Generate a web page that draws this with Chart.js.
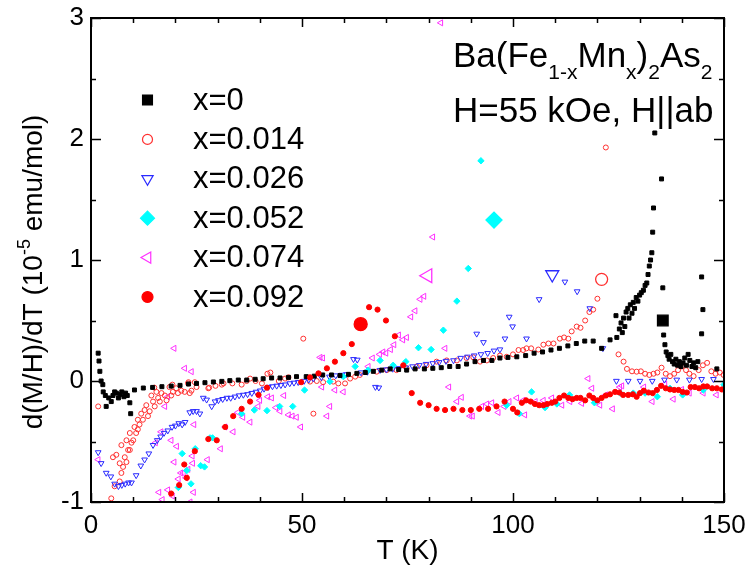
<!DOCTYPE html>
<html>

<head>
  <title>Ba(Fe1-xMnx)2As2 d(M/H)/dT</title>
  <script src="https://cdn.jsdelivr.net/npm/chart.js"></script>
  <style>
    body { margin: 0; background: #fff; }
  </style>
</head>

<body>
  <canvas id="myChart" width="747" height="572"></canvas>
  <script>

    // temperature (K) and d(M/H)/dT (1e-5 emu/mol) for each Mn content
    let t000 = [1.7, 1.9, 2.1, 2.4, 2.8, 2.9, 3.4, 3.6, 4.2, 4.8, 5.2, 5.6, 6.0, 6.5, 6.9, 7.3, 7.8, 8.2, 8.6, 9.2, 9.4,
      10.3, 12.4, 14.6, 16.8, 19.0, 21.1, 23.1, 25.0, 27.0, 29.0, 31.0, 32.9, 34.9, 36.9, 38.9, 40.8, 42.8, 44.8, 46.8, 48.7,
      51.0, 52.9, 54.9, 57.0, 59.0, 61.0, 63.0, 65.0, 66.9, 68.9, 70.9, 72.9, 74.8, 76.8, 79.0, 81.0, 83.0, 85.0, 87.0, 89.0,
      91.0, 93.0, 95.0, 96.9, 98.8, 100.9, 103.0, 105.0, 107.0, 109.0, 111.0, 113.0, 115.0, 117.0, 119.0, 121.0, 123.0,
      124.4, 124.6, 125.2, 125.6, 125.9, 126.2, 126.5, 126.8, 127.2, 127.5, 127.8, 128.2, 128.5, 128.8, 129.2, 129.6, 130.0,
      130.4, 130.9, 131.3, 131.7, 132.0, 132.3, 132.6, 132.9, 133.1, 133.3, 133.6, 135.2, 135.5, 135.7, 136.0, 136.3, 136.7,
      137.0, 137.4, 137.8, 138.2, 138.6, 139.0, 139.4, 139.8, 140.3, 140.7, 141.1, 141.5, 141.9, 142.4, 142.8, 143.3, 143.8,
      144.7, 145.0, 144.7, 148.3];
    let v000 = [0.23, 0.165, 0.08, 0.0, -0.03, -0.09, -0.12, -0.21, -0.14, -0.17, -0.12, -0.09, -0.10, -0.14, -0.11, -0.09, -0.13, -0.10, -0.12, -0.18, -0.27,
      -0.074, -0.058, -0.053, -0.047, -0.042, -0.036, -0.025, -0.02, -0.014, -0.008, -0.003, 0.003, 0.008, 0.008, 0.014, 0.019, 0.025, 0.025, 0.03, 0.036,
      0.036, 0.04, 0.05, 0.05, 0.045, 0.055, 0.063, 0.07, 0.08, 0.09, 0.10, 0.095, 0.09, 0.10, 0.10, 0.105, 0.11, 0.12, 0.12, 0.14,
      0.16, 0.17, 0.17, 0.19, 0.195, 0.20, 0.21, 0.23, 0.24, 0.256, 0.27, 0.29, 0.31, 0.33, 0.33, 0.27, 0.34,
      0.54, 0.36, 0.43, 0.48, 0.40, 0.52, 0.45, 0.57, 0.60, 0.52, 0.63, 0.56, 0.65, 0.60, 0.69, 0.66, 0.71,
      0.73, 0.75, 0.79, 0.81, 0.88, 0.95, 1.00, 1.06, 1.23, 1.43, 2.05, 1.67, 0.77, 0.38, 0.30, 0.24, 0.21,
      0.18, 0.22, 0.16, 0.14, 0.18, 0.13, 0.16, 0.12, 0.15, 0.19, 0.13, 0.22, 0.17, 0.12, 0.15, 0.11, 0.16,
      0.86, 0.59, 0.39, 0.10];

    let t014 = [1.7, 4.8, 5.6, 5.2, 6.0, 6.8, 6.8, 7.2, 7.2, 7.6, 8.0, 8.4, 8.4, 8.8, 9.2, 9.2, 9.6, 10.0, 10.3, 10.7,
      11.1, 11.1, 11.5, 11.9, 12.3, 12.7, 13.1, 13.5, 13.9, 14.3, 14.7, 15.1, 15.5, 15.9, 16.3, 16.7, 17.5, 17.9, 18.6, 19.0,
      19.4, 20.2, 20.6, 21.4, 22.2, 23.0, 23.4, 23.8, 24.6, 25.0,
      15.0, 19.3, 23.1, 27.8, 28.0, 29.5, 31.0, 31.4, 33.5, 35.7, 36.9, 37.7, 39.0, 40.5, 41.8, 42.5, 44.5, 46.0, 46.8,
      50.3, 51.9, 52.7, 53.5, 55.0, 57.4, 58.6, 60.2, 61.4, 62.6, 63.7, 65.3, 67.7, 70.1, 72.4, 74.8, 77.2, 79.5, 81.9, 84.3,
      86.7, 89.0, 90.6, 92.2, 93.8, 95.3, 96.9, 98.5, 100.0, 101.3, 102.4, 103.2, 104.3, 106.0, 107.2, 108.4, 109.6, 111.1,
      112.1, 113.1, 113.9, 115.1, 116.0, 117.1, 118.1, 119.0, 120.0, 122.0, 125.0, 126.2, 127.0, 128.2, 129.3, 130.3, 131.3,
      132.3, 133.3, 134.2, 135.2, 136.2, 137.2, 138.2, 139.1, 140.0, 141.0, 141.8, 142.8, 144.0, 145.0, 146.0, 147.0, 148.0,
      149.0, 149.9];
    let v014 = [-0.21, -0.97, -0.87, -0.63, -0.61, -0.83, -0.68, -0.76, -0.53, -0.71, -0.63, -0.67, -0.49, -0.57, -0.43, -0.57, -0.51, -0.49, -0.38, -0.43,
      -0.40, -0.32, -0.36, -0.27, -0.32, -0.24, -0.20, -0.29, -0.25, -0.12, -0.17, -0.21, -0.09, -0.14, -0.17, -0.10, -0.12, -0.16, -0.05, -0.12,
      -0.09, -0.06, -0.10, -0.08, -0.09, -0.02, -0.10, -0.08, -0.01, -0.05,
      -0.055, -0.03, -0.01, -0.06, -0.055, -0.04, -0.03, -0.02, -0.02, -0.03, 0.0, 0.02, 0.0, -0.02, 0.06, 0.07, 0.0, 0.02, 0.03,
      0.35, -0.005, -0.27, 0.0, -0.01, -0.005, -0.02, -0.02, 0.02, 0.036, 0.05, 0.077, 0.077, 0.09, 0.09, 0.105, 0.12, 0.13, 0.16, 0.17,
      0.17, 0.19, 0.196, 0.16, 0.17, 0.19, 0.21, 0.20, 0.22, 0.256, 0.256, 0.27, 0.27, 0.26, 0.30, 0.31, 0.31, 0.35,
      0.36, 0.35, 0.41, 0.45, 0.44, 0.50, 0.57, 0.59, 0.68, 1.93, 0.22, 0.16, 0.10, 0.08, 0.077, 0.08, 0.06,
      0.05, 0.06, 0.07, 0.11, 0.06, 0.04, 0.06, 0.09, 0.12, 0.09, 0.06, 0.04, 0.09, 0.13, 0.15, 0.08, 0.06,
      0.07, 0.05];

    let t026 = [1.7, 2.4, 3.6, 4.7, 5.6, 6.5, 7.3, 8.1, 8.9, 9.6, 10.7, 11.8, 12.7, 13.7, 14.7, 15.7, 16.5, 17.3, 18.2, 19.2,
      20.0, 20.8, 21.6, 22.3, 23.4, 24.2, 25.0, 25.8, 26.6, 27.4, 28.6, 29.4, 30.2, 31.2, 32.2, 33.1, 34.1, 35.1, 36.1, 37.1,
      38.1, 39.1, 40.1, 41.0, 42.0, 43.0, 44.0, 45.0, 46.0, 47.1, 48.1, 49.1, 50.5, 51.6, 52.7, 54.6, 56.5, 58.0, 59.4, 60.5,
      62.2, 63.1, 64.0, 65.5, 67.4, 68.2, 68.5, 70.0, 71.5, 73.0, 74.6, 76.2, 77.8, 79.4, 81.0, 82.5, 84.1, 85.9, 87.6, 89.2,
      90.8, 91.4, 92.4, 93.0, 94.0, 95.5, 96.9, 98.1, 99.1, 99.9, 103.2, 106.2, 112.3, 115.2, 118.2, 121.3, 124.5, 127.3, 130.1,
      133.0, 135.9, 138.8, 141.8, 144.7, 147.5];
    let v026 = [-0.59, -0.68, -0.76, -0.79, -0.85, -0.87, -0.86, -0.85, -0.84, -0.84, -0.78, -0.70, -0.65, -0.60, -0.53, -0.49, -0.46, -0.43, -0.41, -0.38,
      -0.37, -0.35, -0.36, -0.34, -0.26, -0.25, -0.25, -0.27, -0.14, -0.155, -0.21, -0.17, -0.16, -0.15, -0.14, -0.14, -0.13, -0.12, -0.115, -0.11,
      -0.10, -0.09, -0.08, -0.065, -0.05, -0.045, -0.04, -0.035, -0.03, -0.02, -0.015, -0.01, 0.0, 0.01, 0.02, 0.03, 0.035, 0.045, 0.05, 0.055,
      0.18, 0.175, 0.07, 0.075, -0.05, -0.055, 0.09, 0.095, 0.10, 0.105, 0.11, 0.12, 0.13, 0.14, 0.146, 0.155, 0.165, 0.17, 0.19, 0.20,
      0.21, 0.39, 0.22, 0.32, 0.23, 0.25, 0.26, 0.35, 0.53, 0.45, 0.35, 0.675, 0.82, 0.74, 0.60, 0.27, 0.0, 0.0, 0.0,
      0.0, 0.01, 0.01, 0.01, 0.015, 0.015];

    let t052 = [20.7, 21.6, 22.7, 23.7, 24.7, 26.0, 26.9, 28.2, 28.8, 35.7, 38.7, 41.7, 44.7, 47.8, 50.6, 56.6, 59.8, 62.6, 65.7, 68.5,
      71.6, 74.6, 77.6, 80.6, 83.5, 86.7, 89.4, 92.4, 98.5, 101.5, 104.4, 107.6, 110.4, 113.4, 119.3, 125.4, 128.5, 131.3, 134.2, 137.2,
      140.2, 145.1, 150.0];
    let v052 = [-0.88, -0.60, -0.74, -0.85, -0.56, -0.70, -0.71, -0.47, -0.47, -0.27, -0.24, -0.245, -0.21, -0.21, -0.075, -0.005, 0.036, 0.12, 0.09, 0.17,
      0.13, 0.16, 0.275, 0.26, 0.42, 0.66, 0.93, 1.82, -0.20, -0.27, -0.09, -0.22, -0.19, -0.115, -0.18, -0.10, -0.10, -0.10, -0.13, -0.06,
      -0.115, -0.074, -0.03];

    let t074 = [1.7, 15.3, 16.1, 16.6, 16.9, 17.5, 18.2, 18.2, 19.0, 19.3, 19.7, 19.7, 20.3, 20.7, 21.3, 21.9, 22.2, 22.5, 23.0, 23.5,
      23.8, 24.0, 24.1, 24.3, 24.4, 27.6, 30.7, 31.8, 33.7, 34.8, 36.0, 37.7, 39.6, 40.0, 41.9, 42.8, 43.8, 44.8, 45.7, 46.8,
      47.7, 48.7, 49.7, 54.3, 54.9, 54.7, 55.9, 56.6, 57.8, 59.8, 65.7, 66.7, 68.4, 69.2, 69.9, 71.0, 71.8, 72.9, 73.9, 74.8,
      75.8, 76.8, 78.0, 78.9, 81.0, 82.9, 83.9, 84.8, 86.7, 87.8, 89.8, 90.4, 92.6, 93.8, 95.0, 96.5, 97.9, 99.1, 100.9, 102.4,
      102.8, 105.3, 107.2, 109.2, 111.6, 113.5, 116.3, 117.8, 118.7, 120.6, 122.0, 123.6, 125.3, 125.8, 131.0, 133.0, 136.0, 138.0,
      140.0, 141.8, 145.1, 148.2];
    let v074 = [-0.65, -0.51, -0.92, -0.42, -0.98, -0.21, -0.13, -0.90, -0.49, -0.95, 0.27, -0.67, -0.54, -0.81, -0.76, -0.76, 0.105, -0.80, -0.73, -1.0,
      0.077, -0.62, -0.68, -0.92, -0.36, -0.65, -0.56, -0.38, -0.42, -0.26, -0.30, -0.34, -0.21, -0.16, -0.13, -0.14, -0.22, -0.25, -0.12, -0.28,
      -0.29, -0.30, -0.38, 0.195, 0.19, -0.05, -0.29, -0.21, -0.075, -0.09, 0.12, 0.19, 0.22, 0.24, 0.23, 0.26, 0.30, 0.38, 0.34, 0.36,
      0.53, 0.58, 0.675, 0.70, 1.19, 2.96, 0.27, -0.05, -0.17, -0.135, -0.29, -0.29, -0.21, -0.19, -0.18, -0.26, -0.21, -0.17, -0.14, -0.16,
      -0.28, -0.17, -0.16, -0.14, -0.20, -0.17, -0.185, 0.02, -0.06, -0.20, -0.115, -0.23, -0.05, -0.04, -0.05, -0.17, -0.025, -0.15,
      -0.07, -0.10, -0.10, -0.115];

    let t092 = [19.0, 20.9, 22.1, 22.7, 24.6, 27.8, 29.8, 31.8, 33.7, 35.7, 37.7, 39.7, 41.7, 49.8, 51.9, 53.9, 55.9, 57.8, 59.8, 61.8,
      65.9, 67.9, 69.9, 72.0, 74.0, 76.0, 78.0, 80.0, 81.9, 83.9, 85.9, 88.0, 90.0, 92.0, 94.1, 96.1, 98.0, 100.0, 101.0, 102.1,
      103.1, 104.2, 105.2, 106.2, 107.2, 108.1, 109.2, 110.0, 111.0, 112.1, 113.1, 114.1, 115.1, 116.0, 117.1, 118.1, 119.0, 120.0,
      121.0, 122.0, 123.0, 124.2, 125.2, 126.1, 127.3, 128.4, 129.3, 130.1, 131.0, 132.1, 133.1, 134.1, 135.1, 136.2, 137.2, 138.2,
      139.2, 140.2, 141.2, 142.1, 143.1, 144.1, 145.1, 146.0, 147.2, 148.3, 149.5];
    let v092 = [-0.93, -0.86, -0.69, -0.80, -0.58, -0.48, -0.49, -0.38, -0.29, -0.23, -0.17, -0.115, -0.055, -0.01, 0.03, 0.063, 0.105, 0.16, 0.23, 0.305,
      0.61, 0.59, 0.50, 0.37, 0.13, -0.10, -0.18, -0.20, -0.23, -0.24, -0.23, -0.24, -0.24, -0.23, -0.23, -0.21, -0.17, -0.23, -0.26, -0.18,
      -0.16, -0.17, -0.19, -0.20, -0.20, -0.19, -0.18, -0.17, -0.14, -0.12, -0.14, -0.15, -0.14, -0.14, -0.16, -0.12, -0.14, -0.16,
      -0.14, -0.12, -0.11, -0.09, -0.095, -0.115, -0.115, -0.11, -0.13, -0.10, -0.08, -0.095, -0.10, -0.074, -0.04, -0.06, -0.07, -0.074,
      -0.074, -0.09, -0.095, -0.05, -0.05, -0.06, -0.045, -0.045, -0.06, -0.06, -0.07];

    // big marker that tags each curve (same order as the legend)
    let tagT = [135.5, 121.0, 109.3, 95.5, 79.8, 63.9];
    let tagV = [0.50, 0.84, 0.88, 1.33, 0.87, 0.47];

    let seriesLabels = ['x=0', 'x=0.014', 'x=0.026', 'x=0.052', 'x=0.074', 'x=0.092'];

    const FONT = "'Liberation Sans', Arial, Helvetica, sans-serif";

    // style of each series: shape, rotation, small radius, legend radius, tag radius, fill, stroke
    let looks = [
      { shape: 'rect', rot: 0, r: 2.8, lr: 7, tr: 7.5, fill: '#000000', stroke: '#000000' },
      { shape: 'circle', rot: 0, r: 2.5, lr: 5, tr: 6, fill: 'rgba(0,0,0,0)', stroke: '#ff3030' },
      { shape: 'triangle', rot: 180, r: 3.3, lr: 6.5, tr: 7.5, fill: 'rgba(0,0,0,0)', stroke: '#2a2aff' },
      { shape: 'rectRot', rot: 0, r: 3.2, lr: 7, tr: 8, fill: '#00ffff', stroke: '#00ffff' },
      { shape: 'triangle', rot: 270, r: 3.5, lr: 6.5, tr: 8, fill: 'rgba(0,0,0,0)', stroke: '#ff30ff' },
      { shape: 'circle', rot: 0, r: 2.6, lr: 5.5, tr: 6.5, fill: '#ff0000', stroke: '#ff0000' }
    ];

    let seriesT = [t000, t014, t026, t052, t074, t092];
    let seriesV = [v000, v014, v026, v052, v074, v092];
    let drawOrder = [2, 5, 4, 3, 6, 1];

    let datasets = [];
    seriesT.forEach((ts, i) => {
      let lk = looks[i];
      datasets.push({
        label: seriesLabels[i],
        data: ts.map((t, j) => ({ x: t, y: seriesV[i][j] })),
        pointStyle: lk.shape,
        rotation: lk.rot,
        pointRadius: lk.r,
        pointBackgroundColor: lk.fill,
        pointBorderColor: lk.stroke,
        pointBorderWidth: 1,
        showLine: false,
        order: drawOrder[i]
      });
      datasets.push({
        label: seriesLabels[i] + ' tag',
        data: [{ x: tagT[i], y: tagV[i] }],
        pointStyle: lk.shape,
        rotation: lk.rot,
        pointRadius: lk.tr,
        pointBackgroundColor: lk.fill,
        pointBorderColor: lk.stroke,
        pointBorderWidth: 1.3,
        showLine: false,
        order: 0
      });
    });

    function drawMarker(ctx, lk, x, y, r) {
      ctx.save();
      ctx.beginPath();
      if (lk.shape === 'circle') {
        ctx.arc(x, y, r, 0, Math.PI * 2);
      } else if (lk.shape === 'rect') {
        let s = r * Math.SQRT1_2;
        ctx.rect(x - s, y - s, 2 * s, 2 * s);
      } else if (lk.shape === 'rectRot') {
        ctx.moveTo(x - r, y); ctx.lineTo(x, y - r); ctx.lineTo(x + r, y); ctx.lineTo(x, y + r);
        ctx.closePath();
      } else {
        let a = lk.rot * Math.PI / 180;
        for (let k = 0; k < 3; k++) {
          let px = x + Math.sin(a) * r, py = y - Math.cos(a) * r;
          if (k === 0) ctx.moveTo(px, py); else ctx.lineTo(px, py);
          a += Math.PI * 2 / 3;
        }
        ctx.closePath();
      }
      ctx.fillStyle = lk.fill;
      ctx.fill();
      ctx.strokeStyle = lk.stroke;
      ctx.lineWidth = 1.2;
      ctx.stroke();
      ctx.restore();
    }

    // frame, inward ticks, legend and text labels
    const decorations = {
      id: 'decorations',
      afterDraw(chart) {
        const { ctx, chartArea: a, scales: { x, y } } = chart;
        ctx.save();
        ctx.strokeStyle = '#000';
        ctx.lineWidth = 1.5;
        ctx.beginPath();
        for (let t = 0; t <= 150; t += 10) {
          let px = Math.round(x.getPixelForValue(t)) + 0.5;
          let len = t % 50 === 0 ? 9 : 5;
          ctx.moveTo(px, a.bottom); ctx.lineTo(px, a.bottom - len);
          ctx.moveTo(px, a.top); ctx.lineTo(px, a.top + len);
        }
        for (let v = -1; v <= 3; v += 0.5) {
          let py = Math.round(y.getPixelForValue(v)) + 0.5;
          let len = Number.isInteger(v) ? 10 : 5;
          ctx.moveTo(a.left, py); ctx.lineTo(a.left + len, py);
          ctx.moveTo(a.right, py); ctx.lineTo(a.right - len, py);
        }
        ctx.stroke();
        ctx.lineWidth = 2;
        ctx.strokeRect(a.left, a.top, a.right - a.left, a.bottom - a.top);

        // legend
        ctx.fillStyle = '#000';
        ctx.font = '31px ' + FONT;
        ctx.textBaseline = 'middle';
        ctx.textAlign = 'left';
        seriesLabels.forEach((lab, i) => {
          let ly = 100 + i * 39.4;
          drawMarker(ctx, looks[i], 147.5, ly, looks[i].lr);
          ctx.fillStyle = '#000';
          ctx.fillText(lab, 193, ly + 1);
        });

        // compound annotation with subscripts
        ctx.textBaseline = 'alphabetic';
        let parts = [['Ba(Fe', 0], ['1-x', 1], ['Mn', 0], ['x', 1], [')', 0], ['2', 1], ['As', 0], ['2', 1]];
        let cx = 453;
        parts.forEach(([s, sub]) => {
          ctx.font = (sub ? '21px ' : '35px ') + FONT;
          ctx.fillText(s, cx, sub ? 79 : 67);
          cx += ctx.measureText(s).width;
        });
        ctx.font = '35px ' + FONT;
        ctx.fillText('H=55 kOe, H||ab', 453, 122);

        // y axis title with superscript
        ctx.translate(42, 272);
        ctx.rotate(-Math.PI / 2);
        let yparts = [['d(M/H)/dT (10', 0], ['-5', 1], [' emu/mol)', 0]];
        let total = 0;
        yparts.forEach(([s, sup]) => {
          ctx.font = (sup ? '18px ' : '28px ') + FONT;
          total += ctx.measureText(s).width;
        });
        let yx = -total / 2;
        yparts.forEach(([s, sup]) => {
          ctx.font = (sup ? '18px ' : '28px ') + FONT;
          ctx.fillText(s, yx, sup ? -12 : 0);
          yx += ctx.measureText(s).width;
        });
        ctx.restore();
      }
    };

    let ctx = document.getElementById('myChart').getContext('2d');
    let myChart = new Chart(ctx, {
      type: 'scatter',
      data: { datasets: datasets },
      options: {
        responsive: false,
        animation: false,
        layout: { padding: { top: 18, right: 23, left: 0, bottom: 0 } },
        plugins: {
          legend: { display: false },
          tooltip: { enabled: false }
        },
        scales: {
          x: {
            type: 'linear',
            min: 0,
            max: 150,
            afterFit: s => { s.height = 70; s.paddingLeft = 0; s.paddingRight = 0; },
            grid: { display: false, drawTicks: false },
            border: { display: false },
            ticks: {
              stepSize: 50,
              autoSkip: false,
              maxRotation: 0,
              padding: 8,
              color: '#000',
              font: { family: FONT, size: 26 }
            },
            title: {
              display: true,
              text: 'T (K)',
              color: '#000',
              padding: { top: 0, bottom: 4 },
              font: { family: FONT, size: 28 }
            }
          },
          y: {
            type: 'linear',
            min: -1,
            max: 3,
            afterFit: s => { s.width = 91; s.paddingTop = 0; s.paddingBottom = 0; },
            grid: { display: false, drawTicks: false },
            border: { display: false },
            ticks: {
              stepSize: 1,
              padding: 7,
              color: '#000',
              font: { family: FONT, size: 26 }
            }
          }
        }
      },
      plugins: [decorations]
    });

  </script>
</body>

</html>
